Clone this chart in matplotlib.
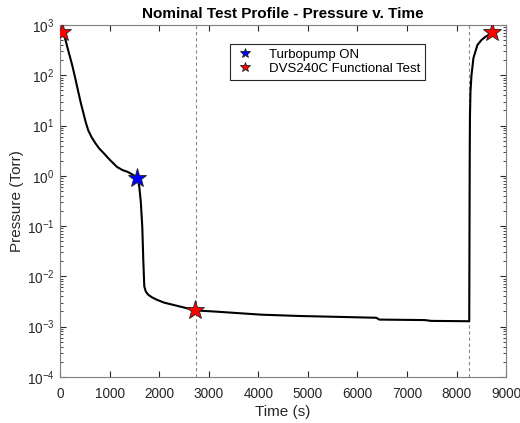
import numpy as np
import matplotlib
matplotlib.use('Agg')
import matplotlib.pyplot as plt
from matplotlib.ticker import LogLocator, FixedLocator

plt.rcParams['font.family'] = ['Liberation Sans', 'DejaVu Sans']

# pressure trace
time_s = [40, 100, 170, 245, 310, 370, 420, 470, 520, 570, 640, 710, 790, 870, 1000,
          1150, 1260, 1360, 1470, 1560, 1600, 1630, 1660, 1680, 1700, 1730, 1780, 1860,
          1960, 2100, 2290, 2500, 2730, 3100, 3440, 4050, 4800, 5400, 6380, 6440, 7350,
          7490, 8255, 8262, 8266, 8270, 8280, 8300, 8340, 8420, 8500, 8580, 8640, 8720]
pressure_torr = [795, 550, 300, 160, 85, 46, 28, 18, 11.5, 8, 5.8, 4.5, 3.5, 2.9, 2.1,
                 1.5, 1.3, 1.2, 1.05, 0.91, 0.6, 0.3, 0.095, 0.021, 0.0063, 0.0050,
                 0.0043, 0.0038, 0.0034, 0.0030, 0.0027, 0.0024, 0.0021, 0.0020, 0.0019,
                 0.00173, 0.00163, 0.00158, 0.0015, 0.00138, 0.00135, 0.0013, 0.00128,
                 0.3, 4, 16, 47, 100, 220, 400, 500, 580, 630, 720]

turbo_t = [1560]
turbo_p = [0.91]
func_t = [40, 2730, 8720]
func_p = [720, 0.0021, 720]
vlines_t = [2750, 8260]

fig = plt.figure(figsize=(5.2, 4.23), dpi=100)
ax = fig.add_axes([0.1154, 0.109, 0.858, 0.832])

for t in vlines_t:
    ax.axvline(t, color='#888888', lw=0.8, ls=(0, (3, 2.5)), zorder=1)

ax.semilogy(time_s, pressure_torr, color='black', lw=1.5, zorder=2)
ax.plot(turbo_t, turbo_p, ls='none', marker='*', ms=14, mfc='#0000ff', mec='#222222',
        mew=0.6, label='Turbopump ON', zorder=3)
ax.plot(func_t, func_p, ls='none', marker='*', ms=14, mfc='#ff0000', mec='#222222',
        mew=0.6, label='DVS240C Functional Test', zorder=3)

ax.set_xlim(0, 9000)
ax.set_ylim(1e-4, 1e3)
ax.xaxis.set_major_locator(FixedLocator(np.arange(0, 9001, 1000)))
ax.yaxis.set_major_locator(LogLocator(base=10, numticks=12))
ax.yaxis.set_minor_locator(LogLocator(base=10, subs=np.arange(2, 10), numticks=12))

ax.tick_params(which='both', direction='in', top=True, right=True, colors='#262626',
               labelsize=9.8)
ax.tick_params(which='major', length=4)
ax.tick_params(which='minor', length=2)
ax.tick_params(axis='x', pad=7)
ax.tick_params(axis='y', pad=4)
for s in ax.spines.values():
    s.set_color('#7f7f7f')
    s.set_linewidth(0.8)

ax.set_xlabel('Time (s)', fontsize=11, color='#262626', labelpad=3)
ax.set_ylabel('Pressure (Torr)', fontsize=11, color='#262626', labelpad=2)
ax.set_title('Nominal Test Profile - Pressure v. Time', fontsize=11, fontweight='bold',
             pad=5)

leg = ax.legend(loc='upper left', bbox_to_anchor=(0.381, 0.946), borderaxespad=0,
                fontsize=9.5, markerscale=0.55, handlelength=1.6, handletextpad=1.0,
                borderpad=0.35, labelspacing=0.15, fancybox=False, framealpha=1)
leg.get_frame().set_edgecolor('#262626')
leg.get_frame().set_linewidth(0.8)

fig.savefig('out.png', dpi=100)
